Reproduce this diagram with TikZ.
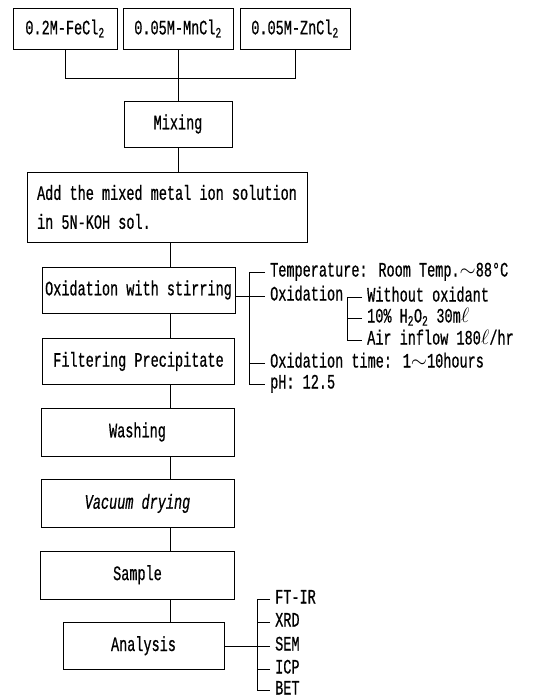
\documentclass[tikz,border=0pt]{standalone}
\usepackage{fontspec}
\setmainfont{Liberation Mono}[FakeStretch=0.66, FakeBold=0.6]
\usepackage{tikz}
\usetikzlibrary{positioning}
\tikzset{line width=0.9pt, stepbox/.style={draw, rectangle, minimum height=46pt, inner sep=2pt, align=center}, item/.style={anchor=west, inner ysep=0pt, inner xsep=5pt, text height=12pt, text depth=3pt}}

\begin{document}
\begin{tikzpicture}[x=1pt, y=-1pt, font=\fontsize{20.5}{22}\selectfont, node distance=23pt]
	\useasboundingbox (0,0) rectangle (548,700);
	\coordinate (spine) at (170,0);
	\node[stepbox, minimum width=104pt, minimum height=41pt] (Fe) at (65,28.5) {0.2M-FeCl\textsubscript{2}};
	\node[stepbox, minimum width=110pt, minimum height=41pt] (Mn) at (178,28.5) {0.05M-MnCl\textsubscript{2}};
	\node[stepbox, minimum width=110pt, minimum height=41pt] (Zn) at (295,28.5) {0.05M-ZnCl\textsubscript{2}};
	\node[stepbox, minimum width=108pt] (Mix) at (178,124) {Mixing};
	\node[stepbox, minimum width=280pt, minimum height=70pt, align=left, font=\fontsize{20.5}{29}\selectfont] (Add) at (167,207) {Add the mixed metal ion solution\\in 5N-KOH sol.};
	\node[stepbox, minimum width=193pt] (Oxid) at (138.5,290) {Oxidation with stirring};
	\node[stepbox, minimum width=192pt, below=25pt of Oxid] (Filter) {Filtering Precipitate};
	\node[stepbox, minimum width=193pt, minimum height=48pt] (Wash) at (137.5,432) {Washing};
	\node[stepbox, minimum width=193pt, minimum height=48pt, below=of Wash] (Dry) {\itshape Vacuum drying};
	\node[stepbox, minimum width=194pt, minimum height=48pt, below=of Dry] (Sample) {Sample};
	\node[stepbox, minimum width=161pt, minimum height=47pt, below=of Sample, xshift=6pt] (Analysis) {Analysis};
	\node[item] (Temp) at (265,272) {Temperature: Room Temp.$\sim$88°C};
	\node[item] (Oxi) at (265,296) {Oxidation};
	\node[item] (Otime) at (265,363) {Oxidation time: 1$\sim$10hours};
	\node[item] (pH) at (265,384) {pH: 12.5};
	\node[item] (None) at (362,297) {Without oxidant};
	\node[item] (Hperox) at (362,318) {10\% H\textsubscript{2}O\textsubscript{2} 30m$\ell$};
	\node[item] (Air) at (362,340) {Air inflow 180$\ell$/hr};
	\node[item] (FTIR) at (270,599) {FT-IR};
	\node[item] (XRD) at (270,622) {XRD};
	\node[item] (SEM) at (270,646) {SEM};
	\node[item] (ICP) at (270,669) {ICP};
	\node[item] (BET) at (270,690) {BET};
	\draw (Fe.south) -- ++(0,29) -| (Zn.south);
	\draw (Mn.south) -- (Mix.north);
	\draw (Mix.south) -- (Mix.south |- Add.north);
	\draw (Add.south -| spine) -- (Oxid.north -| spine);
	\draw (Oxid.south -| spine) -- (Filter.north -| spine);
	\draw (Filter.south -| spine) -- (Wash.north -| spine);
	\draw (Wash.south -| spine) -- (Dry.north -| spine);
	\draw (Dry.south -| spine) -- (Sample.north -| spine);
	\draw (Sample.south -| spine) -- (Analysis.north -| spine);
	\draw (Temp.west) -- ++(-16,0) |- (pH.west);
	\draw (Oxid.east |- Oxi.west) -- (Oxi.west);
	\draw (Otime.west) -- ++(-16,0);
	\draw (None.west) -- ++(-15,0) |- (Air.west);
	\draw (Hperox.west) -- ++(-15,0);
	\draw (FTIR.west) -- ++(-13,0) |- (BET.west);
	\draw (Analysis.east |- SEM.west) -- (SEM.west);
	\draw (XRD.west) -- ++(-13,0);
	\draw (ICP.west) -- ++(-13,0);
\end{tikzpicture}
\end{document}
